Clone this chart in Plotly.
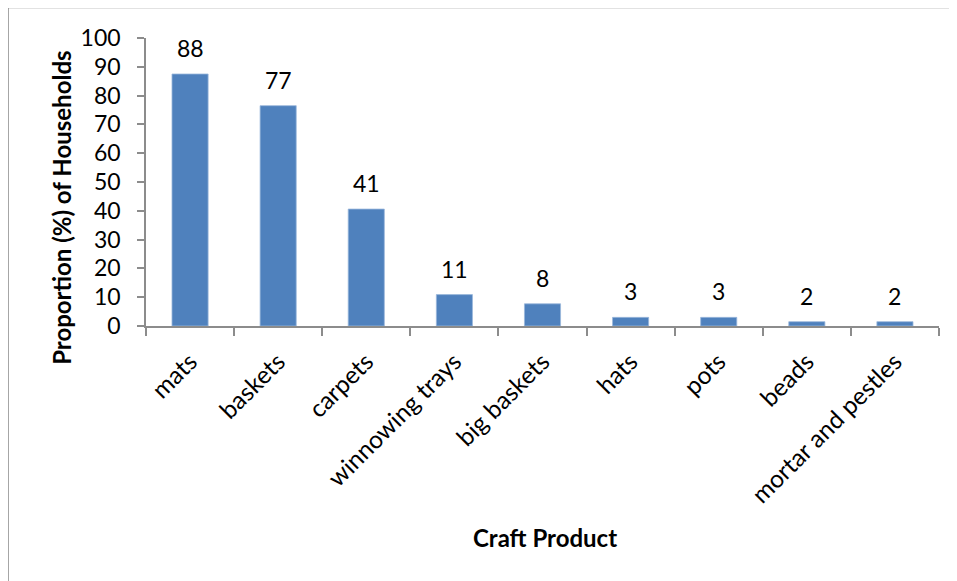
import plotly.graph_objects as go

categories = ["mats", "baskets", "carpets", "winnowing trays", "big baskets",
              "hats", "pots", "beads", "mortar and pestles"]
values = [87.5, 76.5, 40.6, 10.9, 7.7, 3.0, 3.0, 1.5, 1.5]
labels = ["88", "77", "41", "11", "8", "3", "3", "2", "2"]
y_ticks = [0, 10, 20, 30, 40, 50, 60, 70, 80, 90, 100]

FONT = "Lato"
fig = go.Figure()
fig.add_trace(go.Bar(
    x=categories, y=values,
    marker=dict(color="#4F81BD", line=dict(color="#9bb7dc", width=0.8)),
    hoverinfo="skip",
))

for c, v, t in zip(categories, values, labels):
    fig.add_annotation(x=c, y=v, text=t, showarrow=False, yanchor="bottom",
                       yshift=10, font=dict(family=FONT, size=23, color="black"))

fig.update_layout(
    width=957, height=581,
    margin=dict(l=138, r=26, t=30, b=263),
    paper_bgcolor="white", plot_bgcolor="white",
    bargap=0.59, showlegend=False,
    font=dict(family=FONT, size=23, color="black"),
)
fig.update_xaxes(
    type="category", tickangle=-45, tickson="boundaries",
    ticks="outside", ticklen=8, tickcolor="#8c8c8c", tickwidth=1.5,
    showline=True, linecolor="#8c8c8c", linewidth=1.5, ticklabelstandoff=10,
    showgrid=False, tickfont=dict(family=FONT, size=24.5, color="black"),
)
fig.update_yaxes(
    range=[0, 100], tickvals=y_ticks, ticks="outside", ticklen=7,
    tickcolor="#8c8c8c", tickwidth=1.5, showline=True, linecolor="#8c8c8c",
    linewidth=1.5, showgrid=False, zeroline=False, ticklabelstandoff=12,
    tickfont=dict(family=FONT, size=23, color="black"),
)

fig.add_annotation(xref="paper", yref="paper", x=-0.106, y=0.41,
                   xanchor="center", yanchor="middle",
                   text="<b>Proportion (%) of Households</b>", textangle=-90,
                   showarrow=False, font=dict(family=FONT, size=24, color="black"))
fig.add_annotation(xref="paper", yref="paper", x=0.503, y=-0.733,
                   xanchor="center", yanchor="middle",
                   text="<b>Craft Product</b>", showarrow=False,
                   font=dict(family=FONT, size=24, color="black"))

fig.add_shape(type="rect", xref="paper", yref="paper",
              x0=-0.174, x1=1.06, y0=-1.0, y1=1.106,
              line=dict(color="#8c8c8c", width=1.5), fillcolor="rgba(0,0,0,0)",
              layer="below")

fig.write_html("out.html")
